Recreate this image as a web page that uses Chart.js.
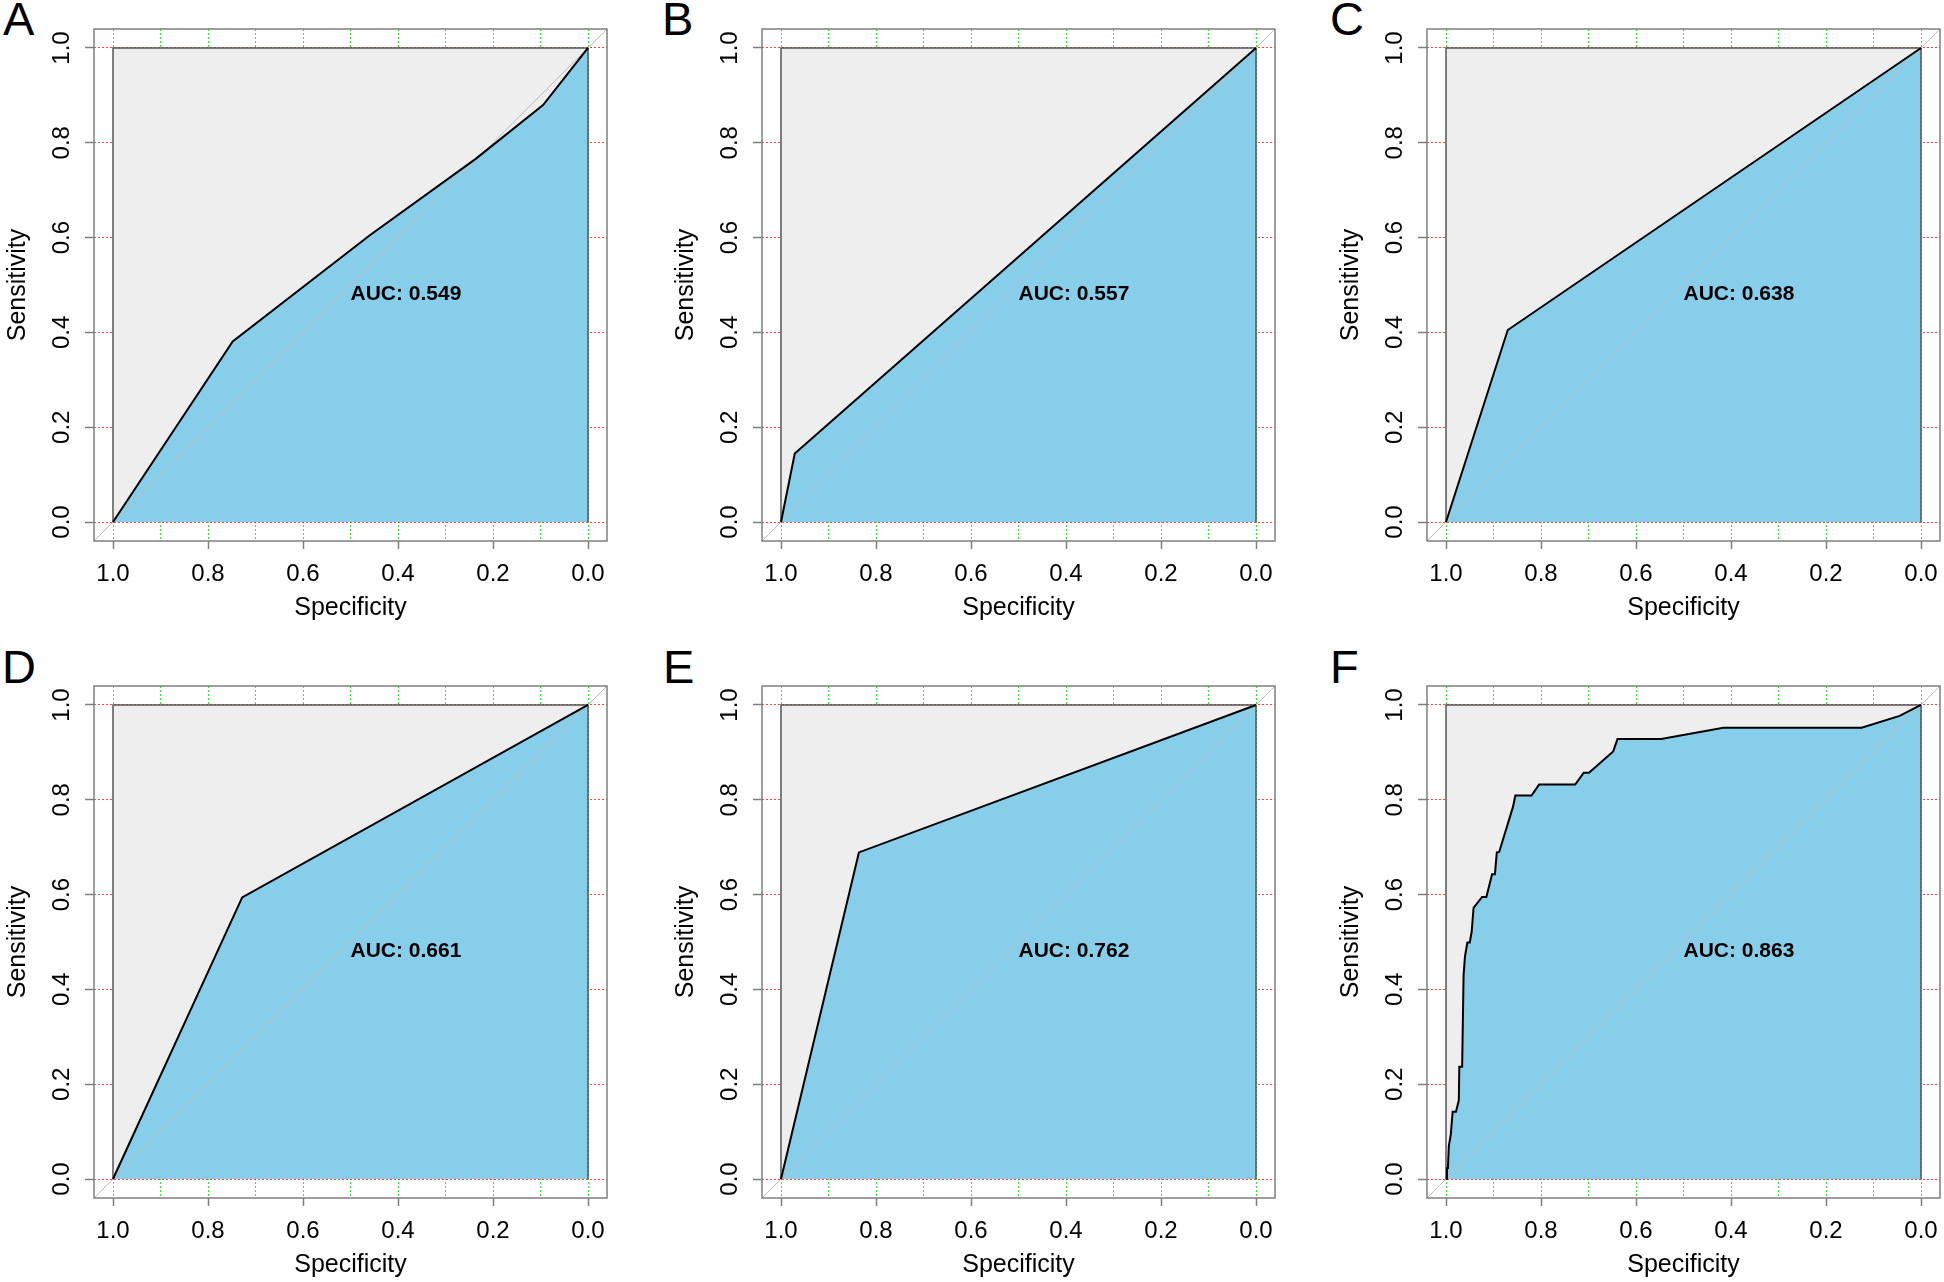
<!DOCTYPE html>
<html>
<head>
<meta charset="utf-8">
<title>ROC curves</title>
<script src="https://cdn.jsdelivr.net/npm/chart.js@4.4.1/dist/chart.umd.min.js"></script>
<style>
  html, body { margin: 0; padding: 0; background: #fff; overflow: hidden; }
  body { width: 1944px; height: 1282px; position: relative; font-family: "Liberation Sans", Arial, sans-serif; }
  canvas.panel { position: absolute; }
  .letter { position: absolute; font-size: 47px; line-height: 47px; color: #000; }
</style>
</head>
<body>
<script>
var panelLetters = ["A", "B", "C", "D", "E", "F"];
var aucLabels = ["AUC: 0.549", "AUC: 0.557", "AUC: 0.638", "AUC: 0.661", "AUC: 0.762", "AUC: 0.863"];

var specA = [1, 0.748, 0.46, 0.2365, 0.0946, 0];
var sensA = [0, 0.381, 0.6045, 0.766, 0.8796, 1];
var specB = [1, 0.971, 0];
var sensB = [0, 0.1445, 1];
var specC = [1, 0.87, 0];
var sensC = [0, 0.405, 1];
var specD = [1, 0.728, 0];
var sensD = [0, 0.594, 1];
var specE = [1, 0.836, 0];
var sensE = [0, 0.689, 1];
var specF = [1, 0.998, 0.996, 0.994, 0.99, 0.986, 0.979, 0.973, 0.972, 0.966, 0.963, 0.96,
  0.955, 0.95, 0.946, 0.942, 0.924, 0.915, 0.903, 0.897, 0.893, 0.888, 0.859, 0.854, 0.82,
  0.804, 0.728, 0.71, 0.699, 0.648, 0.639, 0.547, 0.416, 0.125, 0.045, 0];
var sensF = [0, 0.023, 0.023, 0.07, 0.093, 0.142, 0.142, 0.166, 0.237, 0.237, 0.43, 0.47,
  0.499, 0.499, 0.521, 0.572, 0.595, 0.595, 0.643, 0.643, 0.689, 0.69, 0.785, 0.809, 0.809,
  0.832, 0.832, 0.857, 0.857, 0.902, 0.928, 0.928, 0.952, 0.952, 0.977, 1];

// grey "perfect" polygon and the chance diagonal
var fullSpec = [1, 1, 0, 0];
var fullSens = [0, 1, 1, 0];
var chanceSpec = [1.04, -0.04];
var chanceSens = [-0.04, 1.04];

var specificityTicks = [0, 0.1, 0.2, 0.3, 0.4, 0.5, 0.6, 0.7, 0.8, 0.9, 1.0];
var sensitivityTicks = [0, 0.2, 0.4, 0.6, 0.8, 1.0];
var xTitle = "Specificity";
var yTitle = "Sensitivity";
var aucLabelAt = 0.5;

var rocSpec = [specA, specB, specC, specD, specE, specF];
var rocSens = [sensA, sensB, sensC, sensD, sensE, sensF];

// plot-box positions on the page
var boxLeft = [94, 762, 1427];
var boxTop = [29, 686];
var letterLeft = [[3, 662, 1330], [2, 663, 1330]];
var letterTop = [-5, 643];

var fontStack = "'Liberation Sans', Arial, sans-serif";
Chart.defaults.font.family = fontStack;

function toPoints(xs, ys) {
  return xs.map(function (v, k) { return { x: v, y: ys[k] }; });
}

function isLabelled(v) {
  return Math.round(v * 10) % 2 === 0;
}

var frameAndLabel = {
  id: "frameAndLabel",
  afterDatasetsDraw: function (chart, args, opts) {
    var ctx = chart.ctx;
    var a = chart.chartArea;
    ctx.save();
    ctx.strokeStyle = "#7f7f7f";
    ctx.lineWidth = 1.5;
    ctx.strokeRect(a.left, a.top, a.right - a.left, a.bottom - a.top);
    var x = chart.scales.x.getPixelForValue(aucLabelAt);
    var y = chart.scales.y.getPixelForValue(aucLabelAt);
    ctx.font = "bold 21px " + fontStack;
    ctx.fillStyle = "#000";
    ctx.textAlign = "left";
    ctx.textBaseline = "alphabetic";
    ctx.fillText(opts.text, x, y + 15);
    ctx.restore();
  }
};

function makePanel(i) {
  var col = i % 3;
  var row = Math.floor(i / 3);

  var letter = document.createElement("div");
  letter.className = "letter";
  letter.textContent = panelLetters[i];
  letter.style.left = letterLeft[row][col] + "px";
  letter.style.top = letterTop[row] + "px";
  document.body.appendChild(letter);

  var canvas = document.createElement("canvas");
  canvas.className = "panel";
  canvas.width = 611;
  canvas.height = 602;
  canvas.style.left = (boxLeft[col] - 94) + "px";
  canvas.style.top = (boxTop[row] - 5) + "px";
  document.body.appendChild(canvas);

  new Chart(canvas.getContext("2d"), {
    type: "scatter",
    data: {
      datasets: [
        {
          data: toPoints(rocSpec[i], rocSens[i]),
          showLine: true,
          fill: "origin",
          backgroundColor: "#87CEEB",
          borderColor: "#000",
          borderWidth: 2,
          pointRadius: 0,
          order: 1,
        },
        {
          data: toPoints(chanceSpec, chanceSens),
          showLine: true,
          fill: false,
          borderColor: "#bdbdbd",
          borderWidth: 1,
          pointRadius: 0,
          order: 2,
        },
        {
          data: toPoints(fullSpec, fullSens),
          showLine: true,
          fill: "origin",
          backgroundColor: "#EEEEEE",
          borderColor: "#555",
          borderWidth: 1.5,
          pointRadius: 0,
          order: 3,
        },
      ],
    },
    options: {
      responsive: false,
      animation: false,
      events: [],
      layout: { padding: { top: 5, right: 4, left: 0, bottom: 0 } },
      plugins: {
        legend: { display: false },
        tooltip: { enabled: false },
        filler: { drawTime: "beforeDatasetsDraw" },
        frameAndLabel: { text: aucLabels[i] },
      },
      scales: {
        x: {
          type: "linear",
          reverse: true,
          min: -0.04,
          max: 1.04,
          afterBuildTicks: function (s) {
            s.ticks = specificityTicks.map(function (v) { return { value: v }; });
          },
          afterFit: function (s) {
            s.height = 85;
            s.paddingLeft = 0;
            s.paddingRight = 0;
          },
          ticks: {
            autoSkip: false,
            maxRotation: 0,
            minRotation: 0,
            padding: 11,
            color: "#000",
            font: { size: 24 },
            callback: function (v) { return isLabelled(v) ? v.toFixed(1) : ""; },
          },
          grid: {
            color: "rgba(0, 225, 0, 0.8)",
            lineWidth: 1,
            tickLength: 8,
            tickWidth: 1.5,
            tickColor: function (c) {
              return c.tick && isLabelled(c.tick.value) ? "#7f7f7f" : "rgba(0,0,0,0)";
            },
          },
          border: { display: false, dash: [2, 2] },
          title: {
            display: true,
            text: xTitle,
            color: "#000",
            font: { size: 25 },
            padding: { top: 3, bottom: 3 },
          },
        },
        y: {
          type: "linear",
          min: -0.04,
          max: 1.04,
          afterBuildTicks: function (s) {
            s.ticks = sensitivityTicks.map(function (v) { return { value: v }; });
          },
          afterFit: function (s) {
            s.width = 94;
            s.paddingTop = 0;
            s.paddingBottom = 0;
          },
          ticks: {
            autoSkip: false,
            minRotation: 90,
            maxRotation: 90,
            crossAlign: "center",
            padding: 6,
            color: "#000",
            font: { size: 24 },
            callback: function (v) { return v.toFixed(1); },
          },
          grid: {
            color: "rgba(255, 0, 0, 0.75)",
            lineWidth: 1,
            tickLength: 9,
            tickWidth: 1.5,
            tickColor: "#7f7f7f",
          },
          border: { display: false, dash: [2, 2] },
          title: {
            display: true,
            text: yTitle,
            color: "#000",
            font: { size: 25 },
            padding: { top: 3, bottom: 3 },
          },
        },
      },
    },
    plugins: [frameAndLabel],
  });
}

for (var i = 0; i < panelLetters.length; i++) {
  makePanel(i);
}
</script>
</body>
</html>
